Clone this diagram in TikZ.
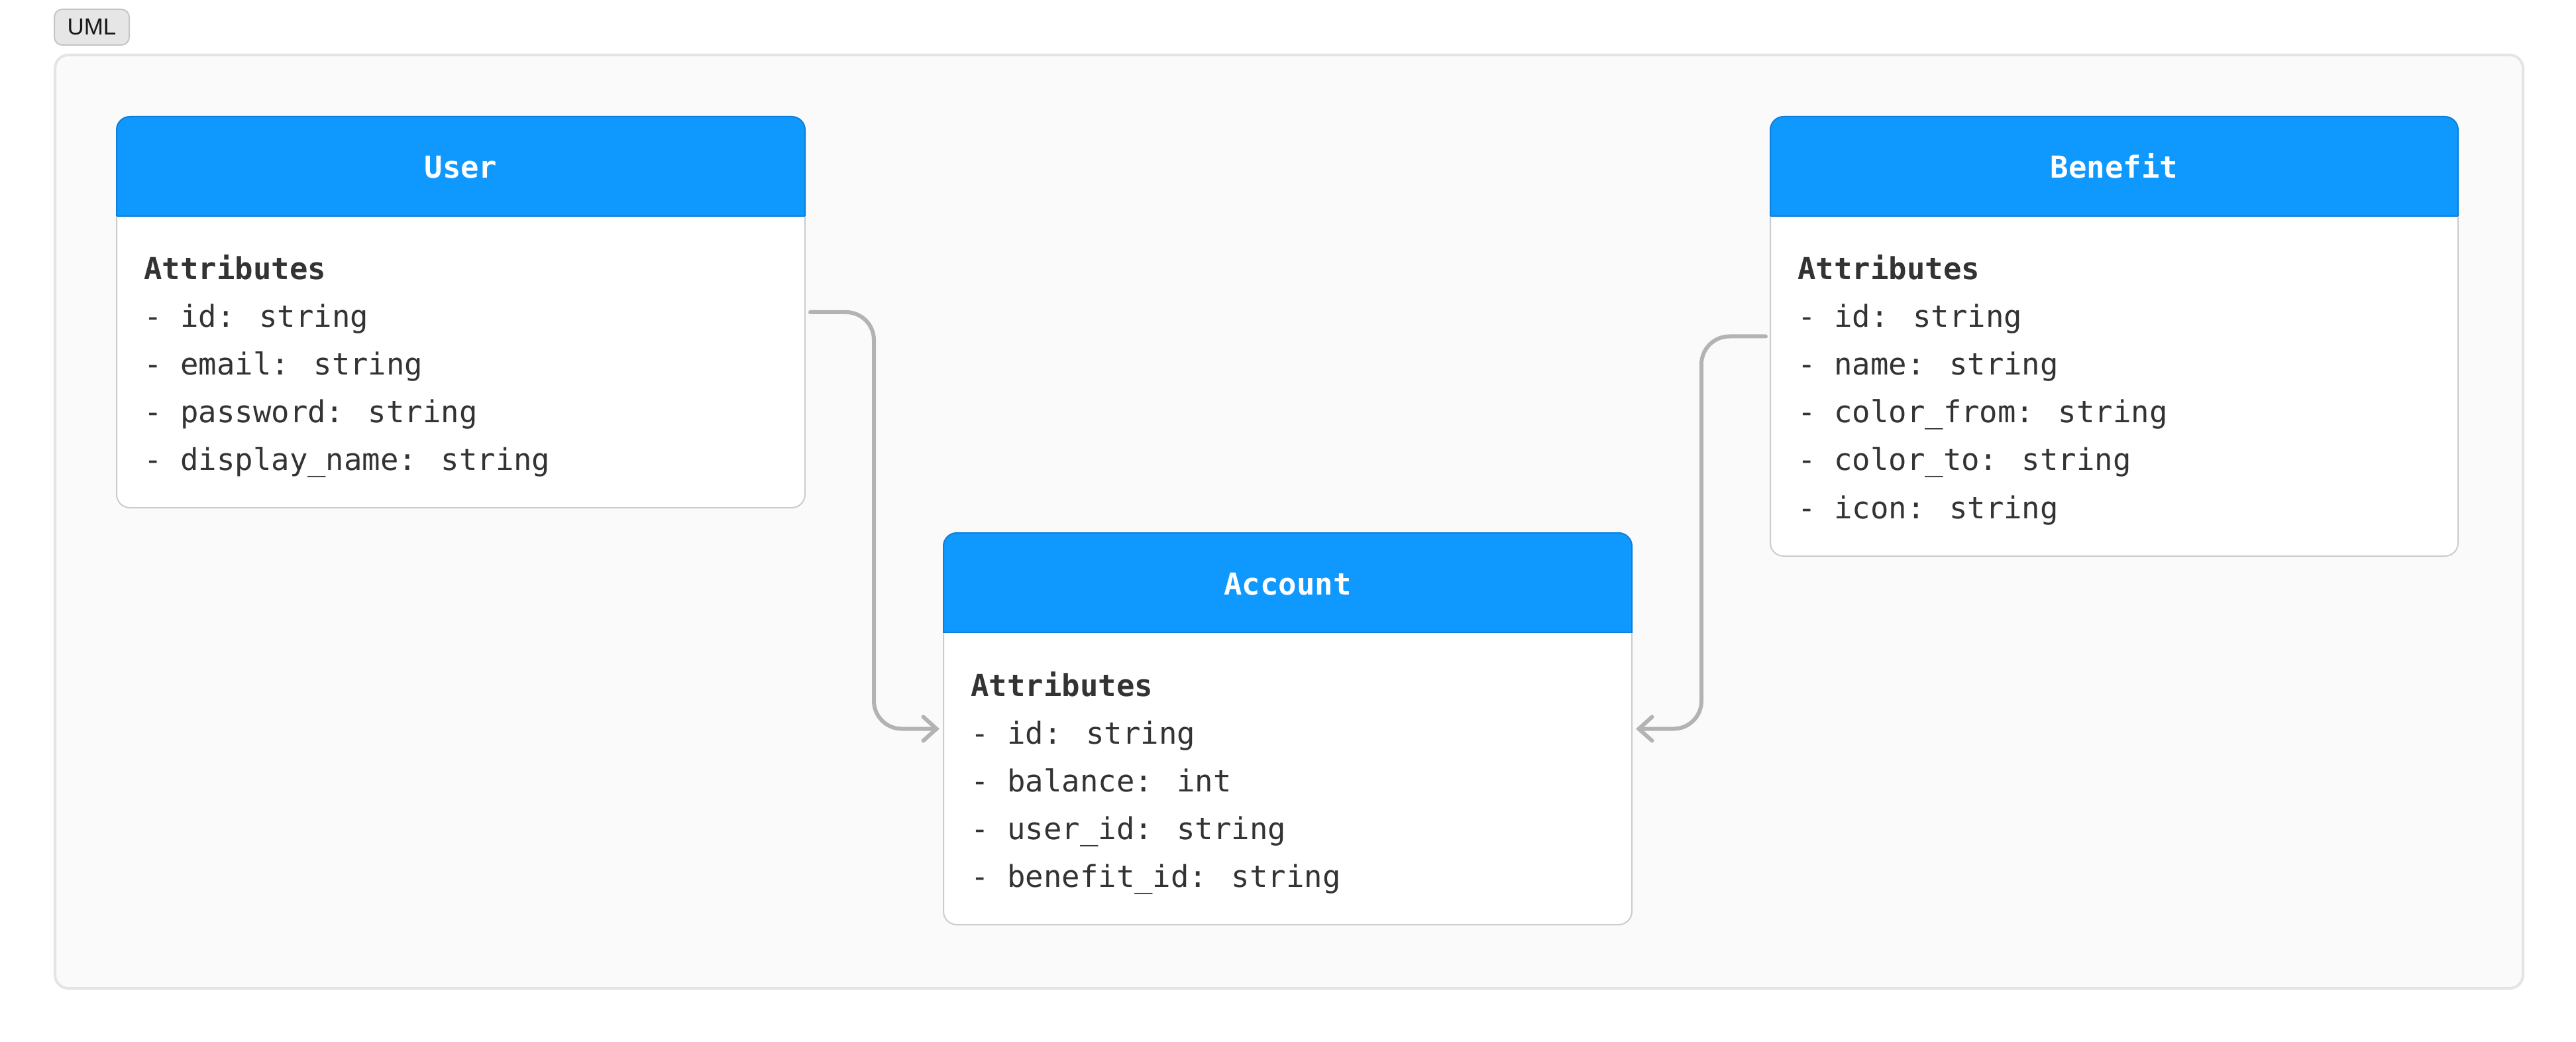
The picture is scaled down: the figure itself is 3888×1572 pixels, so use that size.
\documentclass[tikz,border=0pt]{standalone}
\usepackage{fontspec}
\setmainfont{Liberation Sans}
\newfontfamily\umlmono{DejaVu Sans Mono}
\usetikzlibrary{arrows.meta}
\definecolor{framefill}{HTML}{FAFAFA}
\definecolor{frameedge}{HTML}{E4E4E4}
\definecolor{tagfill}{HTML}{E6E6E6}
\definecolor{tagedge}{HTML}{C6C6C6}
\definecolor{headblue}{HTML}{0F99FF}
\definecolor{headedge}{HTML}{0B80DC}
\definecolor{bodyedge}{HTML}{CCCCCC}
\definecolor{txt}{HTML}{333333}
\definecolor{conncol}{HTML}{B3B3B3}
\tikzset{
  classbody/.style={draw=bodyedge, fill=white, line width=1pt, rounded corners=10pt, inner sep=0pt, outer sep=0pt},
  titletext/.style={font=\umlmono\bfseries\fontsize{22.8pt}{27pt}\selectfont, text=white, inner sep=0pt},
  attrhead/.style={font=\umlmono\bfseries\fontsize{22.8pt}{27pt}\selectfont, text=txt, inner sep=0pt, anchor=base west},
  attrline/.style={font=\umlmono\fontsize{22.8pt}{27pt}\selectfont, text=txt, inner sep=0pt, anchor=base west},
  conn/.style={draw=conncol, line width=3pt, line cap=round, rounded corners=21pt,
    -{Straight Barb[length=10pt, width=18pt, line cap=round]}},
}
\newcommand\umlclass[7]{%
  \pgfmathsetmacro\cw{(#4-#2)/2}%
  \pgfmathsetmacro\ch{(#5-#3)/2}%
  \pgfmathsetmacro\yh{#3+150}%
  \pgfmathsetmacro\cx{(#2+#4)/2}%
  \node[classbody, minimum width=\cw pt, minimum height=\ch pt, anchor=north west] (#1) at (#2,#3) {};
  \begin{scope}
    \clip[rounded corners=10pt] (#2,#3) rectangle (#4,#5);
    \fill[headblue] (#2,#3) rectangle (#4,\yh);
  \end{scope}
  \begin{scope}
    \clip (#2-5,#3-5) rectangle (#4+5,\yh);
    \draw[headedge, line width=1pt, rounded corners=10pt] (#2,#3) rectangle (#4,#5);
  \end{scope}
  \draw[headedge, line width=1pt] (#2,\yh) -- (#4,\yh);
  \node[titletext, anchor=base] (#1-title) at (\cx,#3+93) {#6};
  \node[attrhead] (#1-attr) at (#2+41,#3+246) {Attributes};
  \foreach \t [count=\i] in {#7} {
    \node[attrline] (#1-\i) at (#2+41,#3+246+72*\i) {\t};
  }
}
\begin{document}
\begin{tikzpicture}[x=0.5pt, y=-0.5pt]
\useasboundingbox (0,0) rectangle (3888,1572);
% UML tag
\node[draw=tagedge, fill=tagfill, line width=1pt, rounded corners=6pt,
  minimum width=56.5pt, minimum height=27pt, inner sep=0pt, anchor=north west,
  font=\fontsize{17.5pt}{20pt}\selectfont, text=black!90] (tag) at (81,13) {UML};
% frame
\node[draw=frameedge, fill=framefill, line width=2pt, rounded corners=10pt,
  minimum width=1862.5pt, minimum height=704pt, inner sep=0pt, anchor=north west] (frame) at (81,81) {};
% classes
\umlclass{user}{176}{176}{1215}{766}{User}{- id: string, - email: string, - password: string, - display\_name: string}
\umlclass{benefit}{2672}{176}{3710}{839}{Benefit}{- id: string, - name: string, - color\_from: string, - color\_to: string, - icon: string}
\umlclass{account}{1424}{804}{2463}{1395}{Account}{- id: string, - balance: int, - user\_id: string, - benefit\_id: string}
% connectors
\draw[conn, shorten <=4pt, shorten >=3pt] (user.east) -- ++(104,0) |- (account.west);
\draw[conn, shorten <=3.5pt, shorten >=3pt] (benefit.west) -- ++(-104,0) |- (account.east);
\end{tikzpicture}
\end{document}
